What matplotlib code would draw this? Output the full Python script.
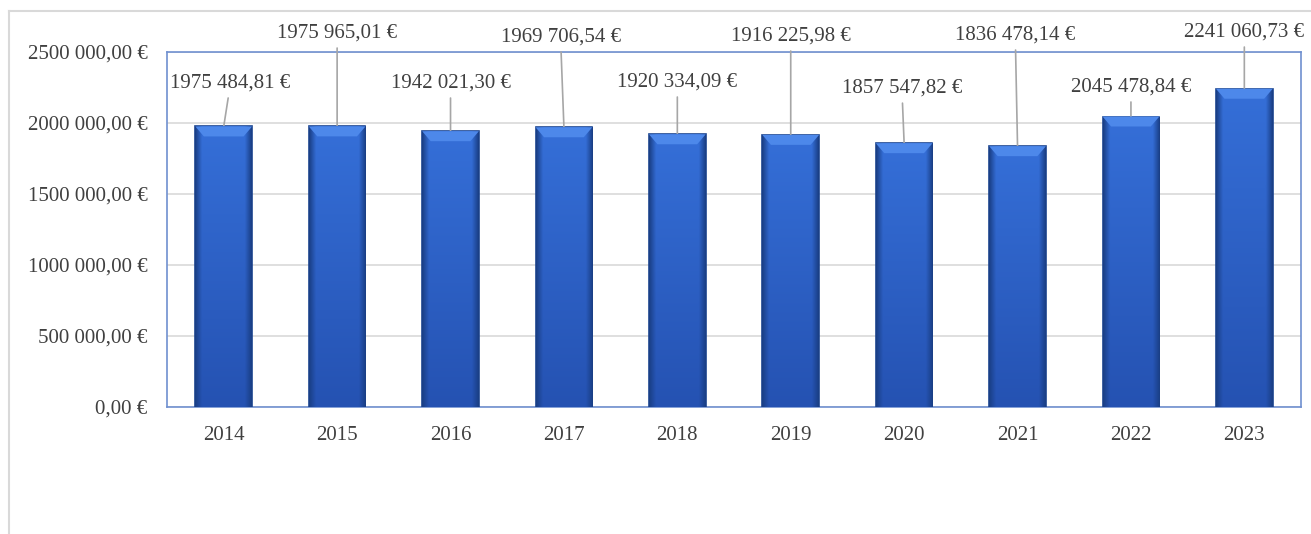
import numpy as np
import matplotlib.pyplot as plt
from matplotlib.colors import to_rgb
from matplotlib.ticker import FuncFormatter

years = ["2014", "2015", "2016", "2017", "2018", "2019", "2020", "2021", "2022", "2023"]
values = [1975484.81, 1975965.01, 1942021.30, 1969706.54, 1920334.09,
          1916225.98, 1857547.82, 1836478.14, 2045478.84, 2241060.73]

# where the data labels sit (x offset in categories, y in axis units)
label_dx = [0.06, 0, 0, -0.03, 0, 0, -0.02, -0.02, 0, 0]
label_y = [2.282e6, 2.634e6, 2.282e6, 2.606e6, 2.289e6, 2.613e6, 2.246e6, 2.62e6, 2.254e6, 2.641e6]


def euro(v):
    # only the last thousands group is split off, like in the source
    s = f"{v:.2f}"
    ip, dp = s.split(".")
    if len(ip) > 3:
        ip = ip[:-3] + " " + ip[-3:]
    return ip + "," + dp + " €"


def bar_shade():
    # top: bright blue, bottom: a bit darker, dark near the sides
    top = np.array(to_rgb("#356FD8"))
    bot = np.array(to_rgb("#2552B2"))
    edge = np.array(to_rgb("#1A3F86"))
    xs = np.linspace(0, 1, 60)
    ys = np.linspace(0, 1, 100)[:, None]
    body = bot + (top - bot) * ys[..., None] * np.ones((1, 60, 1))
    side = np.clip(np.minimum(xs, 1 - xs) / 0.12, 0, 1)[None, :, None]
    img = edge + (body - edge) * side
    return img


def main():
    plt.rcParams['font.family'] = ['Liberation Serif', 'DejaVu Serif']
    text_col = "#404040"

    fig = plt.figure(figsize=(13.11, 5.34), dpi=100)
    ax = fig.add_axes([0.1274, 0.2378, 0.865, 0.6648])

    x = range(len(years))
    bars = ax.bar(x, values, width=0.5, color="#2F66CF", edgecolor="#1C4590", linewidth=1.2, zorder=3)

    shade = bar_shade()
    for b in bars:
        x0, w, h = b.get_x(), b.get_width(), b.get_height()
        im = ax.imshow(shade, aspect="auto", extent=(x0, x0 + w, 0, h), origin="lower",
                       zorder=3.5, interpolation="bilinear")
        im.set_clip_path(b)
        # lighter bevel on top
        ax.fill([x0, x0 + w, x0 + w * 0.85, x0 + w * 0.15], [h, h, h - 70000, h - 70000],
                color="#4D88EA", zorder=3.6, lw=0)
    ax.set_xlim(-0.5, len(years) - 0.5)
    ax.set_ylim(0, 2500000)

    for i, v in enumerate(values):
        ax.annotate(euro(v), xy=(i, v), xytext=(i + label_dx[i], label_y[i]),
                    ha="center", va="center", fontsize=15, color=text_col,
                    annotation_clip=False,
                    arrowprops=dict(arrowstyle="-", color="#A6A6A6", lw=1.2,
                                    shrinkA=2, shrinkB=0))

    ax.set_yticks([0, 500000, 1000000, 1500000, 2000000, 2500000])
    ax.yaxis.set_major_formatter(FuncFormatter(lambda v, p: euro(v)))
    ax.set_xticks(list(x))
    ax.set_xticklabels(years)
    ax.tick_params(length=0, labelsize=15, colors=text_col)
    ax.tick_params(axis="x", pad=14)
    ax.tick_params(axis="y", pad=14)
    ax.grid(axis="y", color="#D9D9D9", lw=1.2, zorder=0)
    for sp in ax.spines.values():
        sp.set_color("#7090D0")
        sp.set_linewidth(1.2)

    # outer chart frame
    fig.add_artist(plt.Line2D([9 / 1311, 9 / 1311], [0, 1 - 11 / 534], transform=fig.transFigure,
                              color="#D9D9D9", lw=1.5))
    fig.add_artist(plt.Line2D([9 / 1311, 1], [1 - 11 / 534, 1 - 11 / 534], transform=fig.transFigure,
                              color="#D9D9D9", lw=1.5))

    plt.savefig("out.png", dpi=100)


if __name__ == '__main__':
    main()
